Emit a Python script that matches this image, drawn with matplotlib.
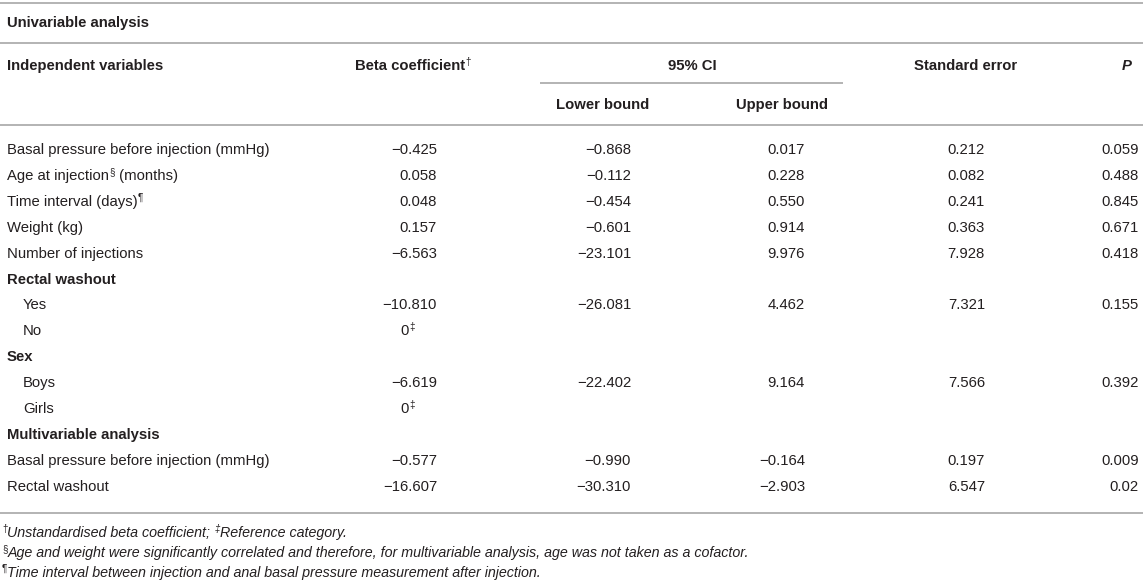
import matplotlib
matplotlib.use("Agg")
import matplotlib.pyplot as plt

plt.rcParams["font.family"] = ["Liberation Sans", "DejaVu Sans"]

# table content
labels = [
    "Basal pressure before injection (mmHg)", "Age at injection", "Time interval (days)",
    "Weight (kg)", "Number of injections", "Rectal washout", "Yes", "No", "Sex",
    "Boys", "Girls", "Multivariable analysis",
    "Basal pressure before injection (mmHg)", "Rectal washout",
]
label_sups = ["", "§", "¶", "", "", "", "", "", "", "", "", "", "", ""]
label_tails = ["", " (months)", "", "", "", "", "", "", "", "", "", "", "", ""]
bold_rows = [5, 8, 11]
indent_rows = [6, 7, 9, 10]

beta = ["−0.425", "0.058", "0.048", "0.157", "−6.563", "", "−10.810", "0", "",
        "−6.619", "0", "", "−0.577", "−16.607"]
lower = ["−0.868", "−0.112", "−0.454", "−0.601", "−23.101", "", "−26.081", "", "",
         "−22.402", "", "", "−0.990", "−30.310"]
upper = ["0.017", "0.228", "0.550", "0.914", "9.976", "", "4.462", "", "",
         "9.164", "", "", "−0.164", "−2.903"]
std_err = ["0.212", "0.082", "0.241", "0.363", "7.928", "", "7.321", "", "",
           "7.566", "", "", "0.197", "6.547"]
p_vals = ["0.059", "0.488", "0.845", "0.671", "0.418", "", "0.155", "", "",
          "0.392", "", "", "0.009", "0.02"]

footnotes = [
    [("†", True), ("Unstandardised beta coefficient; ", False), ("‡", True), ("Reference category.", False)],
    [("§", True), ("Age and weight were significantly correlated and therefore, for multivariable analysis, "
                   "age was not taken as a cofactor.", False)],
    [("¶", True), ("Time interval between injection and anal basal pressure measurement after injection.", False)],
]

W, H = 1143, 582
FS = 10.7
SUP = 7
SUP_RISE = 3.6
TXT = "#231f20"
LINE = "#a7a7a7"

fig = plt.figure(figsize=(W / 100, H / 100), dpi=100)
ax = fig.add_axes([0, 0, 1, 1])
ax.set_xlim(0, W)
ax.set_ylim(H, 0)
ax.axis("off")


def txt(x, y, s, ha="left", bold=False, style="normal", size=FS):
    # y is the visual middle of the line, the baseline sits ~5 px below
    return ax.text(x, y + 5, s, fontsize=size, ha=ha, va="baseline", color=TXT,
                   fontweight="bold" if bold else "normal", fontstyle=style)


def after(art, y, s, sup=False, size=FS, style="normal"):
    # chain a piece of text right after another one on the same baseline
    return ax.annotate(s, xy=(1, y + 5), xycoords=(art, "data"),
                       xytext=(0.3 if sup else 0, SUP_RISE if sup else 0), textcoords="offset points",
                       fontsize=SUP if sup else size, fontstyle=style,
                       va="baseline", ha="left", color=TXT)


# rules
for yy in (3, 43, 125, 513):
    ax.plot([0, W], [yy, yy], color=LINE, lw=1.2, solid_capstyle="butt")
ax.plot([540, 843], [83, 83], color=LINE, lw=1.2, solid_capstyle="butt")

# headers
txt(7, 22, "Univariable analysis", bold=True)
txt(7, 65, "Independent variables", bold=True)
h = txt(410, 65, "Beta coefficient", ha="center", bold=True)
after(h, 65, "†", sup=True)
txt(692, 65, "95% CI", ha="center", bold=True)
txt(603, 104, "Lower bound", ha="center", bold=True)
txt(782, 104, "Upper bound", ha="center", bold=True)
txt(966, 65, "Standard error", ha="center", bold=True)
txt(1127, 65, "P", ha="center", bold=True, style="italic")

# body
y0, step = 149, 25.9
for i, lab in enumerate(labels):
    y = y0 + i * step
    x = 23 if i in indent_rows else 7
    t = txt(x, y, lab, bold=i in bold_rows)
    if label_sups[i]:
        s = after(t, y, label_sups[i], sup=True)
        if label_tails[i]:
            after(s, y, label_tails[i])
    if beta[i] == "0":
        z = txt(405, y, "0", ha="center")
        after(z, y, "‡", sup=True)
    elif beta[i]:
        txt(437, y, beta[i], ha="right")
    for col, xr in ((lower, 631), (upper, 805), (std_err, 985), (p_vals, 1139)):
        if col[i]:
            txt(xr, y, col[i], ha="right")

# footnotes
for k, parts in enumerate(footnotes):
    y = 532 + k * 20
    prev = None
    for s, is_sup in parts:
        if prev is None:
            prev = ax.annotate(s, xy=(2, y + 5), xytext=(0, SUP_RISE), textcoords="offset points",
                               fontsize=SUP, va="baseline", ha="left", color=TXT)
        else:
            prev = after(prev, y, s, sup=is_sup, size=FS - 0.4, style="italic")

fig.savefig("out.png", dpi=100)
